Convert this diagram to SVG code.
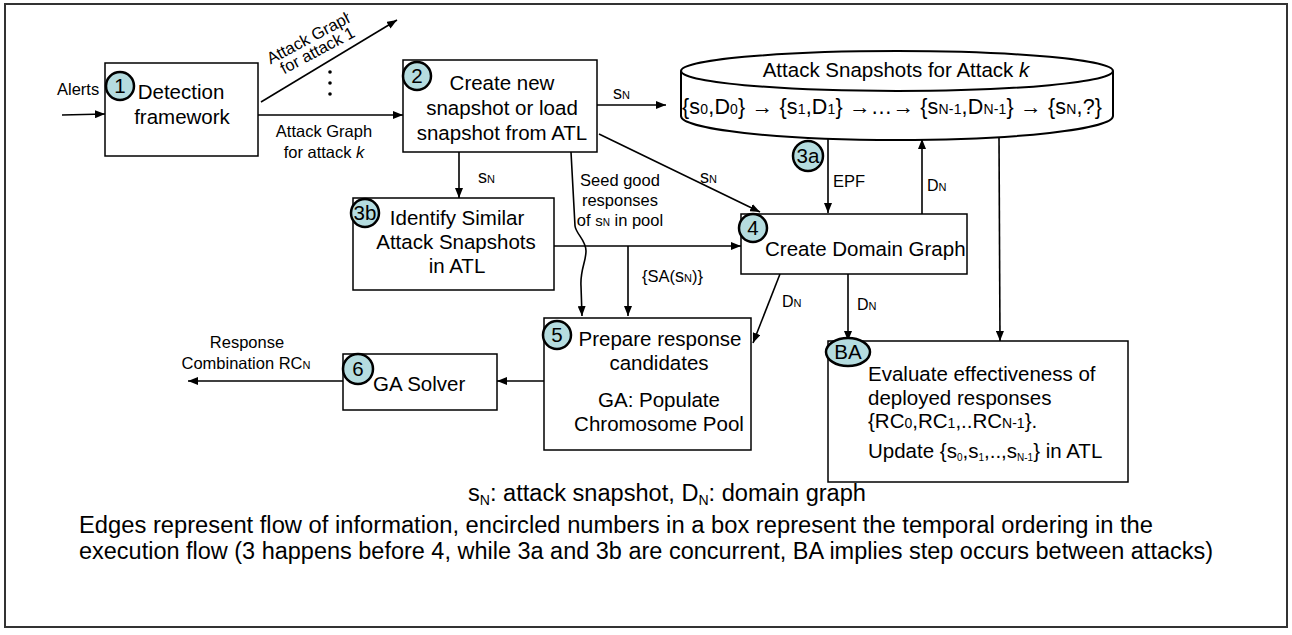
<svg xmlns="http://www.w3.org/2000/svg" width="1292" height="635" viewBox="0 0 1292 635">
<style>
text{font-family:"Liberation Sans",Arial,sans-serif;fill:#000}
.t{font-size:20.5px}
.l{font-size:16.5px}
.c{text-anchor:middle}
.box{fill:#fff;stroke:#000;stroke-width:1.5}
.badge{fill:#b5dcdf;stroke:#000;stroke-width:2.5}
.e{fill:none;stroke:#000;stroke-width:1.6}
.a{marker-end:url(#ah)}
.sub{font-size:14px}
.ls{font-size:18px}
.ln{font-size:11px}
.cap{font-size:23.5px}
</style>
<defs>
<marker id="ah" viewBox="0 0 10 8" markerWidth="10" markerHeight="8" markerUnits="userSpaceOnUse" refX="10" refY="4" orient="auto"><path d="M0,0 L10,4 L0,8 z" fill="#000"/></marker>
<clipPath id="clipAG"><rect x="-60" y="-30" width="104" height="40"/></clipPath>
</defs>
<rect x="5" y="4" width="1282" height="623" fill="#fff" stroke="#333" stroke-width="2"/>

<g id="connectors">
<path class="e a" d="M62,115 L105,114"/>
<text class="l" x="57" y="95">Alerts</text>
<path class="e a" d="M258,115 L403,115"/>
<text class="l c" x="324" y="137">Attack Graph</text>
<text class="l c" x="324" y="158">for attack <tspan font-style="italic">k</tspan></text>
<path class="e a" d="M261,102 L397,20"/>
<g transform="translate(313,42) rotate(-28)">
<text class="l c" x="0" y="0" clip-path="url(#clipAG)">Attack Graph</text>
<text class="l c" x="0" y="15">for attack 1</text>
</g>
<circle cx="330" cy="72" r="1.8"/><circle cx="330" cy="83" r="1.8"/><circle cx="330" cy="94" r="1.8"/>
<path class="e a" d="M597,105 L666,105"/>
<text x="613" y="99"><tspan class="ls">s</tspan><tspan class="ln">N</tspan></text>
<path class="e a" d="M459,152 L459,198"/>
<text x="478" y="183"><tspan class="ls">s</tspan><tspan class="ln">N</tspan></text>
<path class="e a" d="M599,134 L760,212"/>
<text x="700" y="183"><tspan class="ls">s</tspan><tspan class="ln">N</tspan></text>
<path class="e a" d="M571,152 L575,226 C576,234 586,240 586,251 C586,262 580,270 581,286 L582,316"/>
<text class="l c" x="620" y="186">Seed good</text>
<text class="l c" x="620" y="206">responses</text>
<text class="l c" x="620" y="226">of <tspan font-size="15">s</tspan><tspan font-size="10">N</tspan> in pool</text>
<path class="e a" d="M554,246 L741,246"/>
<path class="e a" d="M628,246 L628,316"/>
<text class="l" x="642" y="282">{SA(<tspan class="ls">s</tspan><tspan class="ln">N</tspan>)}</text>
<path class="e a" d="M828,136 L828,213"/>
<text class="l" x="833" y="187">EPF</text>
<path class="e a" d="M922,214 L922,139"/>
<text x="927" y="191"><tspan font-size="16">D</tspan><tspan class="ln">N</tspan></text>
<path class="e a" d="M999,136 L1000,341"/>
<path class="e a" d="M780,274 L753,343"/>
<text x="782" y="307"><tspan font-size="16">D</tspan><tspan class="ln">N</tspan></text>
<path class="e a" d="M848,274 L848,341"/>
<text x="857" y="310"><tspan font-size="16">D</tspan><tspan class="ln">N</tspan></text>
<path class="e a" d="M544,381 L497,381"/>
<path class="e a" d="M343,381 L188,381"/>
<text class="l c" x="247" y="348">Response</text>
<text class="l c" x="246" y="369">Combination RC<tspan class="ln">N</tspan></text>
</g>

<g id="n1">
<rect class="box" x="105" y="63" width="153" height="93"/>
<circle class="badge" cx="120" cy="86" r="14"/>
<text class="t c" x="120" y="93">1</text>
<text class="t c" x="181" y="99">Detection</text>
<text class="t c" x="182" y="124">framework</text>
</g>

<g id="n2">
<rect class="box" x="403" y="60" width="194" height="92"/>
<circle class="badge" cx="417" cy="76" r="14"/>
<text class="t c" x="417" y="83">2</text>
<text class="t c" x="502" y="90">Create new</text>
<text class="t c" x="502" y="115">snapshot or load</text>
<text class="t c" x="502" y="140">snapshot from ATL</text>
</g>

<g id="atl">
<path d="M681,71 A216,20 0 0 1 1113,71 L1113,116 A216,24 0 0 1 681,116 Z" fill="#fff" stroke="#000" stroke-width="2"/>
<path d="M681,71 A216,20 0 0 0 1113,71" fill="none" stroke="#000" stroke-width="2"/>
<text class="t c" x="896" y="77">Attack Snapshots for Attack <tspan font-style="italic">k</tspan></text>
<text font-size="21.5" x="682" y="114" textLength="420">{s<tspan class="sub">0</tspan>,D<tspan class="sub">0</tspan>}  → {s<tspan class="sub">1</tspan>,D<tspan class="sub">1</tspan>} →…→ {s<tspan class="sub">N-1</tspan>,D<tspan class="sub">N-1</tspan>} → {s<tspan class="sub">N</tspan>,?}</text>
</g>

<g id="n3a">
<circle class="badge" cx="808" cy="156" r="15"/>
<text class="t c" x="808" y="163">3a</text>
</g>

<g id="n3b">
<rect class="box" x="353" y="198" width="201" height="92"/>
<circle class="badge" cx="365" cy="213" r="14"/>
<text class="t c" x="365" y="220">3b</text>
<text class="t c" x="457" y="225">Identify Similar</text>
<text class="t c" x="456" y="249">Attack Snapshots</text>
<text class="t c" x="457" y="273">in ATL</text>
</g>

<g id="n4">
<rect class="box" x="741" y="214" width="226" height="60"/>
<circle class="badge" cx="753" cy="228" r="14"/>
<text class="t c" x="753" y="235">4</text>
<text class="t" x="765" y="256">Create Domain Graph</text>
</g>

<g id="n5">
<rect class="box" x="544" y="318" width="207" height="132"/>
<circle class="badge" cx="557" cy="335" r="14"/>
<text class="t c" x="557" y="342">5</text>
<text class="t c" x="660" y="346">Prepare response</text>
<text class="t c" x="659" y="370">candidates</text>
<text class="t c" x="659" y="407">GA: Populate</text>
<text class="t c" x="659" y="431">Chromosome Pool</text>
</g>

<g id="n6">
<rect class="box" x="343" y="354" width="154" height="56"/>
<circle class="badge" cx="358" cy="369" r="15"/>
<text class="t c" x="358" y="376">6</text>
<text class="t" x="373" y="391">GA Solver</text>
</g>

<g id="nBA">
<rect class="box" x="828" y="341" width="300" height="141"/>
<ellipse class="badge" cx="848" cy="352" rx="22" ry="14"/>
<text class="t c" x="848" y="359">BA</text>
<text class="t" x="868" y="381">Evaluate effectiveness of</text>
<text class="t" x="868" y="405">deployed responses</text>
<text class="t" x="868" y="428">{RC<tspan class="sub">0</tspan>,RC<tspan class="sub">1</tspan>,..RC<tspan class="sub">N-1</tspan>}.</text>
<text class="t" x="868" y="458">Update {s<tspan font-size="10" dy="3">0</tspan><tspan dy="-3">,s</tspan><tspan font-size="10" dy="3">1</tspan><tspan dy="-3">,..,s</tspan><tspan font-size="10" dy="3">N-1</tspan><tspan dy="-3">} in ATL</tspan></text>
</g>

<g id="caption">
<text class="cap" x="468" y="501" textLength="398" lengthAdjust="spacingAndGlyphs">s<tspan font-size="14" dy="4">N</tspan><tspan dy="-4">: attack snapshot, D</tspan><tspan font-size="14" dy="4">N</tspan><tspan dy="-4">: domain graph</tspan></text>
<text class="cap" x="79" y="533" textLength="1074" lengthAdjust="spacingAndGlyphs">Edges represent flow of information, encircled numbers in a box represent the temporal ordering in the</text>
<text class="cap" x="79" y="559" textLength="1134" lengthAdjust="spacingAndGlyphs">execution flow (3 happens before 4, while 3a and 3b are concurrent, BA implies step occurs between attacks)</text>
</g>
</svg>
